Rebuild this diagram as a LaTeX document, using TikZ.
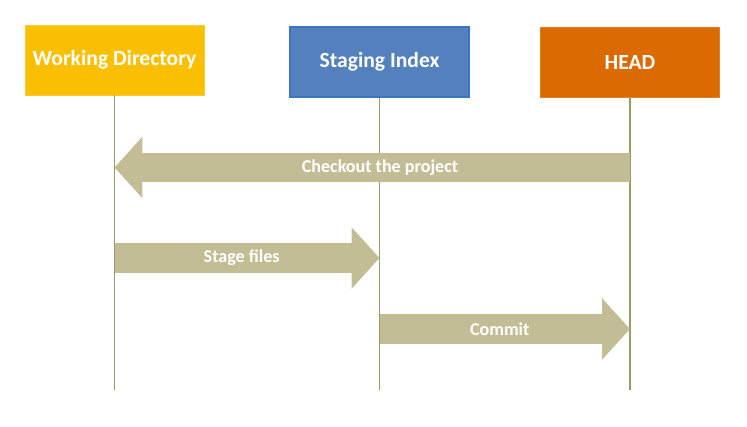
\documentclass[tikz,border=0pt]{standalone}
\usepackage{fontspec}
\setmainfont{Carlito}
\usetikzlibrary{arrows.meta, positioning, calc}
\definecolor{wdyellow}{HTML}{FAC000}
\definecolor{siblue}{HTML}{5480BE}
\definecolor{siedge}{HTML}{3A74C4}
\definecolor{headorange}{HTML}{DB6A00}
\definecolor{flowtan}{HTML}{C3BD96}
\definecolor{lifeolive}{HTML}{9E9A66}
\tikzstyle{box} = [rectangle, minimum width=3.58cm, minimum height=1.4cm, text=white, font=\fontsize{12.3}{14}\selectfont\bfseries]
\tikzstyle{life} = [lifeolive, line width=1.1pt]
\tikzstyle{flow} = [flowtan, line width=0.6cm, -{Triangle[length=0.56cm, width=1.2cm]}]

\begin{document}
\begin{tikzpicture}[x=0.02cm, y=-0.02cm,
    label/.style={text=white, font=\fontsize{10.3}{12}\selectfont\bfseries}
  ]
    \useasboundingbox (0,0) rectangle (747,426);
    % Areas
    \node[box, fill=wdyellow, draw=wdyellow!80!white] (wd) at (114.5,60) {Working Directory};
    \node[box, fill=siblue, draw=siedge, line width=0.8pt] (si) at (379.5,62) {Staging Index};
    \node[box, fill=headorange, draw=headorange!85!white] (head) at (630,62) {HEAD};

    % Lifelines
    \coordinate (wdend) at (wd |- 0,390);
    \coordinate (siend) at (si |- 0,390);
    \coordinate (headend) at (head |- 0,390);
    \draw[life] (wd.south) -- (wdend);
    \draw[life] (si.south) -- (siend);
    \draw[life] (head.south) -- (headend);

    % Checkout the project
    \coordinate (coA) at (head |- 0,167.5);
    \coordinate (coB) at (wd |- 0,167.5);
    \draw[flow] (coA) -- (coB);
    \node[label] (colbl) at ($(coA)!0.485!(coB)$) {Checkout the project};

    % Stage files
    \coordinate (stA) at (wd |- 0,258);
    \coordinate (stB) at (si |- 0,258);
    \draw[flow] (stA) -- (stB);
    \node[label] (stlbl) at ($(stA)!0.48!(stB)$) {Stage files};

    % Commit
    \coordinate (cmA) at (si |- 0,329);
    \coordinate (cmB) at (head |- 0,329);
    \draw[flow] (cmA) -- (cmB);
    \node[label] (cmlbl) at ($(cmA)!0.48!(cmB)$) {Commit};
  \end{tikzpicture}
\end{document}
